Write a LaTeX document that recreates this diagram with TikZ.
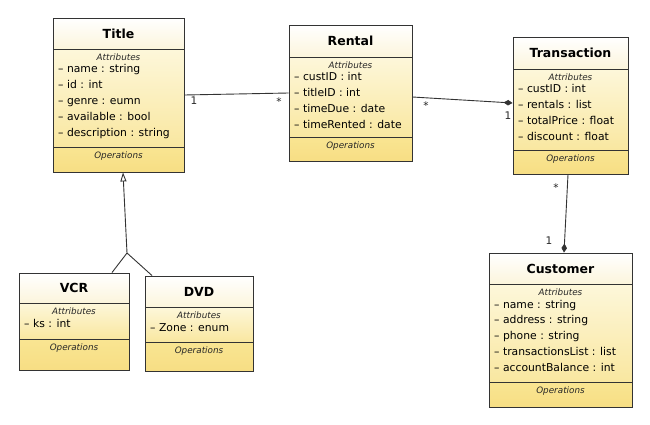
\documentclass[tikz,border=0pt]{standalone}
\usepackage{fontspec}
\setmainfont{DejaVu Sans}
\usetikzlibrary{arrows.meta,fit,calc}
\definecolor{hdtop}{HTML}{FFFFFF}
\definecolor{hdbot}{HTML}{FCF5DC}
\definecolor{attop}{HTML}{FDF7DA}
\definecolor{atbot}{HTML}{F9E7A0}
\definecolor{optop}{HTML}{F9E592}
\definecolor{opbot}{HTML}{F7DE84}
\definecolor{lineclr}{HTML}{333333}
\tikzset{
  umlline/.style={draw=lineclr, line width=0.9pt},
  classbox/.style={draw=lineclr, line width=0.9pt, inner sep=0pt},
  classname/.style={inner sep=0pt, font=\fontsize{12.5}{14}\selectfont\bfseries, text=black},
  attrlabel/.style={inner sep=0pt, font=\fontsize{8.8}{10}\selectfont\itshape, text=black!85},
  attrtext/.style={inner sep=0pt, font=\fontsize{10.8}{12}\selectfont, text=black},
  multlabel/.style={inner sep=0pt, font=\fontsize{10.5}{12}\selectfont, text=black!85},
  assoc/.style={draw=lineclr, line width=0.9pt},
  compos/.style={assoc, -{Diamond[length=9pt,width=5.5pt,fill=lineclr]}},
  general/.style={assoc, -{Triangle[open,length=9pt,width=6pt,fill=white]}},
}
% #1 id, #2 left, #3 top, #4 right, #5 div1, #6 div2, #7 bottom, #8 name, #9 attributes
\newcommand{\umlclass}[9]{%
  \shade[top color=hdtop, bottom color=hdbot] (#2,#3) rectangle (#4,#5);
  \shade[top color=attop, bottom color=atbot] (#2,#5) rectangle (#4,#6);
  \shade[top color=optop, bottom color=opbot] (#2,#6) rectangle (#4,#7);
  \draw[umlline] (#2,#5) -- (#4,#5) (#2,#6) -- (#4,#6);
  \coordinate (#1-nw) at (#2,#3);
  \coordinate (#1-se) at (#4,#7);
  \node[classbox, fit=(#1-nw)(#1-se)] (#1) {};
  \node[classname] (#1-n) at ({(#2+#4)/2},{(#3+#5)/2}) {#8};
  \node[attrlabel] (#1-al) at ({(#2+#4)/2},{#5+8}) {Attributes};
  \foreach \a [count=\i] in {#9}
    \node[attrtext, anchor=base west] (#1-a\i) at ({#2+5},{#5+24+(\i-1)*15.8}) {– \a};
  \node[attrlabel] (#1-ol) at ({(#2+#4)/2},{#6+9}) {Operations};
}
\begin{document}
\begin{tikzpicture}[x=1pt,y=-1pt]
\useasboundingbox[fill=white] (0,0) rectangle (650,425);

\umlclass{title}{53}{18}{184}{49}{147}{172}{Title}{name : string, id : int, genre : eumn, available : bool, description : string}
\umlclass{rental}{289}{25}{412}{57}{137}{161}{Rental}{custID : int, titleID : int, timeDue : date, timeRented : date}
\umlclass{trans}{513}{37}{628}{69}{150}{174}{Transaction}{custID : int, rentals : list, totalPrice : float, discount : float}
\umlclass{cust}{489}{253}{632}{284}{382}{407}{Customer}{name : string, address : string, phone : string, transactionsList : list, accountBalance : int}
\umlclass{vcr}{19}{273}{129}{303}{339}{370}{VCR}{ks : int}
\umlclass{dvd}{145}{276}{253}{307}{342}{371}{DVD}{Zone : enum}

% Title -- Rental
\draw[assoc] (title.east) -- (rental.west);
\node[multlabel] (m1) at (194,101) {1};
\node[multlabel] (m2) at (279,102) {*};

% Rental -- Transaction (composition)
\draw[compos] ([yshift=-4pt]rental.east) -- ([yshift=2.5pt]trans.west);
\node[multlabel] (m3) at (426,106) {*};
\node[multlabel] (m4) at (508,116) {1};

% Transaction -- Customer (composition)
\draw[compos] ([xshift=-2.5pt]trans.south) -- ([xshift=3.5pt]cust.north);
\node[multlabel] (m5) at (556,188) {*};
\node[multlabel] (m6) at (549,241) {1};

% Generalization
\coordinate (gj) at (127,253);
\draw[general] (gj) -- ([xshift=4.5pt]title.south);
\draw[assoc] (gj) -- ([xshift=38pt]vcr.north);
\draw[assoc] (gj) -- ([xshift=-47pt]dvd.north);
\end{tikzpicture}
\end{document}
